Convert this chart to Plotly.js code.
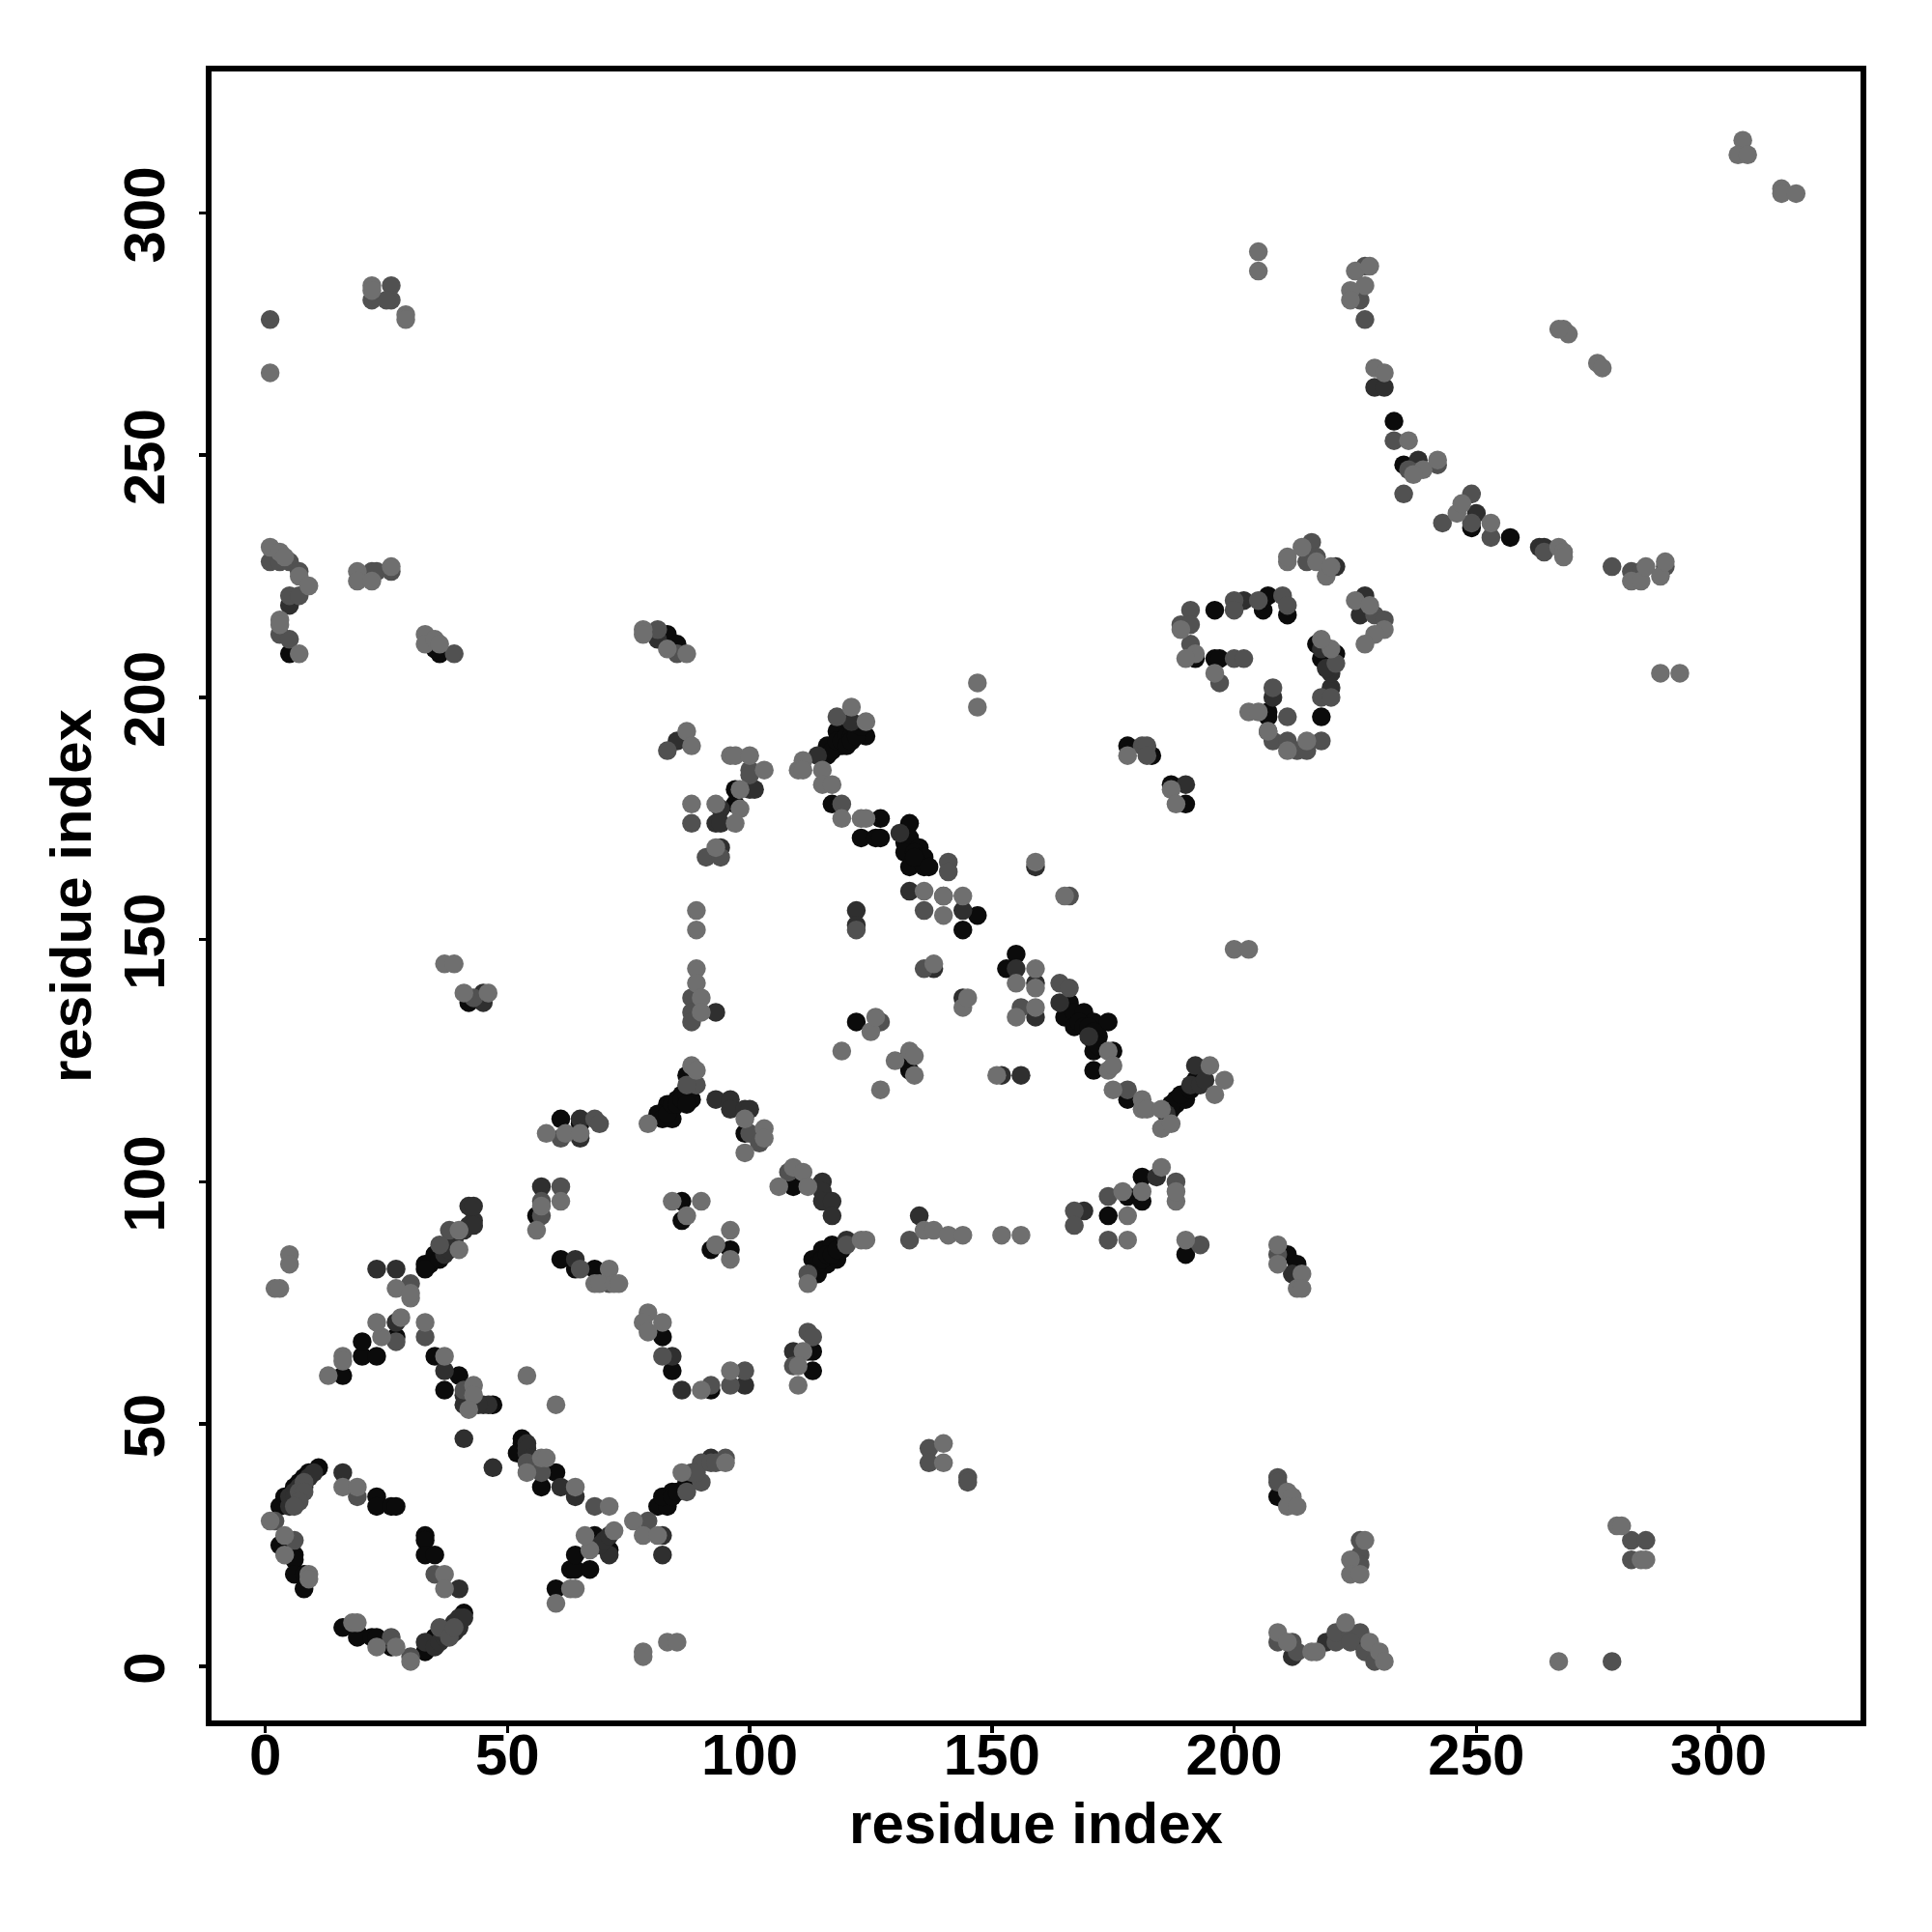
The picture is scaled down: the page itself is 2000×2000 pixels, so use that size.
<!DOCTYPE html>
<html><head><meta charset="utf-8">
<script src="https://cdn.plot.ly/plotly-3.0.1.min.js"></script>
<style>html,body{margin:0;padding:0;background:#fff}</style></head>
<body><div id="chart" style="width:2000px;height:2000px"></div>
<script>
const tickValues = [0,50,100,150,200,250,300];
const axisTitle = "residue index";
const blackPairs = [[3,33],[4,35],[5,34],[6,37],[7,38],[8,39],[9,40],[11,41],[3,25],[6,23],[6,22],[6,19],[8,19],[8,16],[23,35],[23,33],[26,33],[27,33],[33,27],[33,26],[33,23],[35,23],[16,8],[19,7],[19,6],[22,6],[23,6],[26,4],[33,3],[35,6],[36,6],[41,11],[16,60],[20,64],[20,67],[23,64],[27,68],[33,83],[34,83],[35,85],[38,87],[33,82],[36,84],[35,64],[37,57],[40,60],[47,54],[53,47],[53,46],[52,44],[60,40],[57,37],[60,16],[63,20],[64,20],[64,23],[67,20],[68,27],[71,24],[81,33],[83,33],[82,35],[84,36],[87,38],[84,35],[85,36],[56,93],[61,84],[64,82],[68,82],[86,96],[86,92],[92,86],[96,86],[82,68],[84,61],[92,57],[88,117],[86,118],[85,117],[84,115],[83,116],[82,114],[81,114],[82,113],[84,113],[87,122],[83,114],[84,116],[85,116],[86,117],[87,118],[87,116],[99,110],[61,113],[65,112],[42,137],[97,181],[97,178],[124,192],[121,193],[119,192],[118,193],[119,190],[118,190],[116,190],[116,188],[117,189],[118,191],[119,191],[120,192],[121,192],[122,193],[120,190],[121,191],[122,192],[123,194],[117,178],[127,175],[133,174],[123,171],[126,171],[127,171],[132,170],[133,171],[135,169],[132,168],[133,165],[136,166],[134,168],[135,167],[136,167],[136,165],[134,167],[137,165],[147,155],[144,152],[153,144],[155,147],[166,137],[165,134],[167,135],[169,135],[171,133],[174,133],[167,132],[172,130],[171,127],[175,127],[171,123],[168,133],[169,132],[170,132],[171,131],[171,129],[172,128],[178,117],[178,190],[183,188],[187,182],[190,178],[187,115],[188,116],[188,117],[190,118],[190,117],[186,115],[187,116],[189,118],[191,119],[192,120],[192,121],[174,93],[178,97],[181,101],[181,96],[190,85],[109,99],[113,84],[114,81],[115,86],[116,83],[117,87],[118,84],[119,86],[114,83],[115,84],[116,85],[117,85],[118,86],[122,133],[132,125],[133,123],[113,65],[112,65],[113,61],[196,218],[207,221],[206,218],[211,217],[192,208],[196,208],[197,208],[207,197],[207,196],[218,196],[221,209],[218,208],[217,211],[5,209],[36,209],[35,210],[83,213],[85,211],[233,257],[235,248],[249,235],[257,233],[210,85],[211,85],[213,83],[209,35]];
const darkPairs = [[5,33],[6,36],[16,40],[33,5],[40,16],[41,47],[47,41],[23,82],[27,82],[27,71],[37,61],[41,54],[45,54],[46,54],[61,37],[64,35],[71,23],[82,27],[82,23],[92,43],[43,92],[42,95],[43,95],[84,64],[86,57],[99,58],[57,99],[64,84],[5,35],[6,35],[7,37],[8,37],[9,39],[10,40],[35,4],[36,5],[37,6],[37,7],[38,7],[39,7],[39,9],[40,10],[40,8],[41,10],[41,56],[42,55],[43,54],[43,55],[44,54],[54,46],[54,44],[54,45],[55,43],[37,85],[38,86],[39,88],[41,90],[42,91],[43,91],[69,25],[70,26],[71,27],[85,191],[100,181],[101,181],[94,177],[93,174],[94,174],[94,169],[93,135],[93,117],[96,117],[96,115],[99,115],[100,115],[65,113],[65,109],[45,139],[45,137],[121,195],[114,188],[131,172],[133,160],[140,159],[144,156],[122,156],[122,153],[159,165],[138,144],[144,138],[155,144],[159,141],[159,134],[164,137],[170,130],[186,114],[191,120],[193,120],[192,124],[194,121],[152,122],[156,122],[169,94],[184,101],[135,93],[115,100],[115,98],[115,96],[117,96],[117,93],[120,88],[109,65],[190,182],[202,220],[207,193],[208,200],[220,202],[220,205],[221,227],[227,221],[226,217],[218,210],[219,206],[5,219],[81,212],[229,264],[231,264],[238,249],[250,238],[263,231],[264,231],[219,5],[212,2],[226,5],[212,81]];
const midPairs = [[2,30],[6,26],[19,35],[8,38],[7,36],[8,36],[7,34],[6,33],[26,6],[30,2],[36,8],[35,19],[38,6],[39,8],[27,67],[33,68],[41,57],[54,42],[57,40],[68,33],[79,30],[82,64],[90,38],[90,42],[95,43],[87,36],[88,40],[89,40],[92,42],[93,42],[30,79],[38,90],[36,87],[57,96],[57,93],[61,99],[65,82],[71,79],[93,87],[92,58],[96,58],[99,61],[61,109],[43,138],[83,189],[100,185],[100,184],[88,174],[91,167],[94,167],[88,138],[88,135],[88,133],[89,120],[87,120],[68,113],[69,112],[100,110],[102,108],[118,196],[119,178],[141,166],[141,164],[136,156],[122,152],[136,144],[156,136],[164,141],[166,140],[178,119],[127,133],[167,94],[167,91],[174,97],[188,100],[174,88],[193,87],[133,88],[108,102],[120,87],[112,81],[181,190],[182,190],[182,188],[166,159],[191,218],[200,220],[200,218],[205,220],[210,221],[211,219],[189,215],[191,215],[191,211],[200,208],[202,208],[197,203],[208,202],[211,196],[208,191],[211,191],[213,189],[215,189],[218,191],[218,200],[220,200],[221,207],[216,232],[217,229],[215,228],[229,217],[231,216],[1,278],[22,282],[26,285],[26,282],[25,282],[1,228],[3,228],[5,228],[7,226],[5,221],[7,221],[3,213],[5,212],[22,226],[23,226],[26,226],[39,209],[81,214],[85,209],[227,289],[226,282],[227,278],[233,253],[236,247],[242,248],[235,242],[243,236],[253,233],[264,230],[278,227],[282,226],[289,227],[284,226],[249,236],[249,242],[209,85],[209,39],[209,38],[226,26],[226,23],[226,21],[282,26],[285,26],[282,22],[209,5],[212,5],[213,3],[221,5],[221,7],[224,7],[226,7],[224,5],[227,3],[229,1],[278,1],[112,69],[113,68],[109,62],[137,45],[137,42],[145,39],[145,38]];
const grayPairs = [[1,30],[4,27],[4,23],[9,19],[9,18],[16,37],[19,37],[18,9],[19,9],[23,4],[27,4],[30,1],[37,19],[37,16],[13,60],[16,64],[16,63],[24,68],[23,71],[28,72],[27,78],[30,76],[30,77],[5,85],[5,83],[2,78],[3,78],[33,71],[37,64],[43,58],[43,56],[42,53],[40,86],[40,90],[54,60],[60,54],[54,40],[57,43],[58,43],[64,37],[71,33],[60,13],[63,16],[64,16],[67,24],[66,27],[72,28],[76,30],[78,27],[81,27],[86,40],[95,42],[61,96],[57,95],[56,90],[71,82],[68,79],[69,79],[72,79],[73,79],[84,96],[90,96],[87,93],[96,90],[93,87],[96,84],[79,73],[78,71],[82,71],[79,69],[90,57],[96,61],[78,3],[78,2],[83,5],[85,5],[87,193],[88,190],[96,188],[97,188],[100,188],[103,185],[98,181],[88,178],[93,178],[98,177],[97,174],[93,169],[89,156],[89,152],[89,144],[89,141],[90,138],[90,135],[88,124],[89,123],[79,112],[99,113],[103,111],[103,109],[99,106],[58,110],[62,110],[65,110],[37,145],[39,145],[41,139],[46,139],[121,198],[124,195],[111,187],[110,185],[111,185],[115,185],[115,182],[117,182],[119,175],[123,175],[124,175],[136,160],[140,159],[144,159],[140,155],[159,166],[165,159],[147,203],[147,198],[138,145],[144,136],[145,138],[155,141],[159,144],[159,140],[159,136],[155,134],[174,127],[174,123],[175,124],[175,119],[181,117],[181,115],[182,115],[185,115],[185,111],[187,112],[195,124],[198,121],[196,118],[151,122],[200,148],[203,148],[125,131],[126,134],[119,127],[127,119],[130,125],[133,127],[134,126],[134,122],[177,98],[178,93],[181,98],[185,103],[188,96],[188,98],[178,88],[190,88],[136,90],[138,90],[141,89],[144,89],[152,89],[156,89],[123,88],[124,88],[109,103],[111,102],[106,99],[112,99],[178,188],[187,181],[188,178],[112,79],[110,58],[111,65],[110,62],[189,214],[192,209],[190,208],[196,205],[203,197],[205,197],[207,193],[211,189],[215,191],[220,210],[218,212],[211,228],[211,229],[214,231],[217,228],[219,225],[220,227],[225,220],[228,219],[231,214],[229,213],[227,211],[1,267],[22,285],[22,284],[29,279],[29,278],[1,231],[3,230],[4,229],[7,225],[9,223],[3,216],[3,215],[7,209],[19,226],[19,224],[22,224],[26,227],[33,213],[33,211],[35,212],[36,211],[78,214],[78,213],[83,210],[87,209],[205,292],[205,288],[225,288],[228,289],[227,285],[224,284],[224,282],[229,268],[231,267],[236,253],[239,247],[242,249],[237,246],[246,238],[247,240],[253,236],[267,231],[268,230],[268,229],[282,224],[284,224],[285,227],[288,225],[289,228],[288,205],[292,205],[268,276],[269,275],[267,276],[275,269],[276,268],[305,315],[304,312],[306,312],[313,305],[313,304],[316,304],[209,87],[209,83],[214,81],[213,78],[214,78],[211,36],[212,35],[211,33],[213,33],[227,26],[224,22],[224,19],[226,19],[279,29],[280,29],[284,22],[285,22],[209,7],[211,5],[216,3],[217,3],[223,9],[228,5],[230,3],[231,1],[267,1],[140,46],[140,42]];

const layerPairs = [blackPairs, darkPairs, midPairs, grayPairs];
const layerColours = ["#0b0b0b","#2f2f2f","#515151","#6f6f6f"];
const traces = layerPairs.map((pairs,i)=>({
  type:"scatter", mode:"markers",
  x:pairs.map(p=>p[0]), y:pairs.map(p=>p[1]),
  marker:{size:19.5,color:layerColours[i],line:{width:0}},
  hoverinfo:"skip", showlegend:false
}));
const tickFont = {family:'"Liberation Sans", Arial, sans-serif', size:60, color:"#000", weight:700};
const titleFont = {family:'"Liberation Sans", Arial, sans-serif', size:60, color:"#000", weight:700};
const axisBase = {
  tickmode:"array", tickvals:tickValues, ticktext:tickValues.map(String),
  ticks:"outside", ticklen:7, tickwidth:3.5, tickcolor:"#000", showgrid:false, zeroline:false,
  showline:true, mirror:true, linewidth:6, linecolor:"#000", tickfont:tickFont, automargin:true
};
const layout = {
  width:2000, height:2000, paper_bgcolor:"#fff", plot_bgcolor:"#fff", showlegend:false,
  margin:{l:219,r:74,t:74,b:219},
  xaxis:{...axisBase, range:[-11.09,329.3], tickangle:0, ticklabelstandoff:-29, title:{text:axisTitle,font:titleFont,standoff:19}},
  yaxis:{...axisBase, range:[-11.17,329.2], tickangle:-90, ticklabelstandoff:12, ticklabelshift:11, title:{text:axisTitle,font:titleFont,standoff:4}}
};
Plotly.newPlot("chart",traces,layout,{displayModeBar:false,staticPlot:true});
</script></body></html>
